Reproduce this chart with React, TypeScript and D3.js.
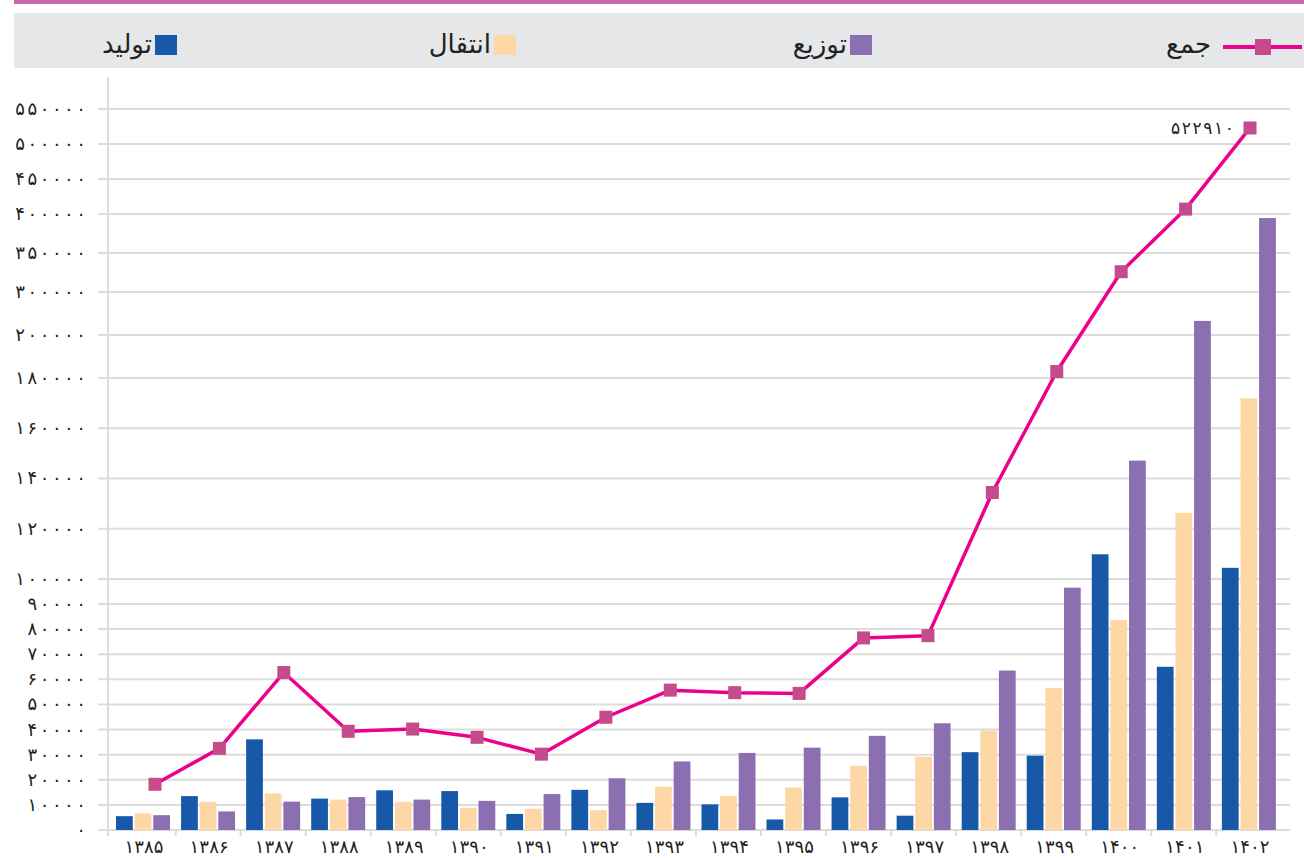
import { useMemo } from 'react';
import * as d3 from 'd3';

// سال‌ها و مقادیر (خوانده‌شده از تصویر)
const years = ['۱۳۸۵', '۱۳۸۶', '۱۳۸۷', '۱۳۸۸', '۱۳۸۹', '۱۳۹۰', '۱۳۹۱', '۱۳۹۲', '۱۳۹۳', '۱۳۹۴', '۱۳۹۵', '۱۳۹۶', '۱۳۹۷', '۱۳۹۸', '۱۳۹۹', '۱۴۰۰', '۱۴۰۱', '۱۴۰۲'];
const production = [5500, 13500, 36100, 12500, 15800, 15500, 6400, 16000, 10800, 10200, 4200, 13000, 5700, 31000, 29600, 109800, 65000, 104400];
const transmission = [6600, 11200, 14600, 12100, 11200, 8800, 8500, 7900, 17300, 13600, 16900, 25600, 29200, 39600, 56500, 83700, 126300, 171900];
const distribution = [5900, 7400, 11300, 13100, 12100, 11600, 14300, 20600, 27300, 30700, 32800, 37500, 42500, 63500, 96500, 147100, 232800, 394800];
const total = [18200, 32500, 62700, 39300, 40200, 36900, 30200, 44900, 55700, 54700, 54400, 76500, 77400, 134400, 183000, 326000, 407000, 522910];
const yTicks = [0, 10000, 20000, 30000, 40000, 50000, 60000, 70000, 80000, 90000, 100000, 120000, 140000, 160000, 180000, 200000, 300000, 350000, 400000, 450000, 500000, 550000];

const seriesKeys = ['prod', 'trans', 'dist'];
const seriesNames = ['تولید', 'انتقال', 'توزیع'];
const colors: Record<string, string> = { prod: '#1759a8', trans: '#fdd8a6', dist: '#8c6fb0' };
const lineColor = '#ec008c';
const markerColor = '#c54b8c';

const W = 1304;
const H = 858;
const FONT = '"DejaVu Sans", sans-serif';

const fa = (n: number) => String(n).replace(/\d/g, (d) => '۰۱۲۳۴۵۶۷۸۹'[+d]);

export default function App() {
  // axis is broken: linear up to 180000, compressed above
  const y = useMemo(
    () => d3.scaleLinear().domain([0, 180000, 200000, 300000, 400000, 550000]).range([830, 378, 335, 292, 214, 109]),
    []
  );
  const x = useMemo(
    () => d3.scaleBand<string>().domain(years).range([110.5, 1281.4]).paddingInner(0.17).paddingOuter(0.085),
    []
  );
  const xSub = useMemo(
    () => d3.scaleBand<string>().domain(seriesKeys).range([0, x.bandwidth()]).paddingInner(0.1),
    [x]
  );
  const xLine = useMemo(() => d3.scalePoint<string>().domain(years).range([155, 1250]), []);

  const seriesData: Record<string, number[]> = { prod: production, trans: transmission, dist: distribution };

  const linePath = d3
    .line<number>()
    .x((_, i) => xLine(years[i])!)
    .y((d) => y(d))(total);

  const legendItems = [
    { key: 'prod', name: seriesNames[0], sx: 155 },
    { key: 'trans', name: seriesNames[1], sx: 494 },
    { key: 'dist', name: seriesNames[2], sx: 850 },
  ];

  const last = total.length - 1;
  // Arabic-script text ignores letter-spacing, so spread digits with textLength
  const spread = (s: string, per: number) => (s.length > 1 ? { textLength: s.length * per - 3, lengthAdjust: 'spacing' } : {});

  return (
    <svg width={W} height={H} style={{ position: 'absolute', left: 0, top: 0, background: '#fff', fontFamily: FONT }}>
      {/* top band + legend */}
      <rect x={14} y={0} width={W - 14} height={4} fill="#c56aa9" />
      <rect x={14} y={13} width={W - 14} height={55} fill="#e6e7e9" />
      {legendItems.map((l) => (
        <g key={l.key}>
          <rect x={l.sx} y={35} width={22} height={20} fill={colors[l.key]} />
          <text x={l.sx - 3} y={53} textAnchor="end" fontSize={26} fill="#222">
            {l.name}
          </text>
        </g>
      ))}
      <line x1={1223} x2={1302} y1={47} y2={47} stroke={lineColor} strokeWidth={4} />
      <rect x={1255} y={39} width={16} height={16} fill={markerColor} />
      <text x={1211} y={53} textAnchor="end" fontSize={26} fill="#222">
        جمع
      </text>

      {/* grid */}
      {yTicks.map((t) => (
        <g key={t}>
          <line x1={98} x2={1290} y1={y(t)} y2={y(t)} stroke="#dcdcdc" strokeWidth={2} />
          <text x={86} y={y(t) + 6} textAnchor="end" fontSize={18} fill="#222" {...spread(fa(t), 12.3)}>
            {fa(t)}
          </text>
        </g>
      ))}
      <line x1={108} x2={108} y1={77} y2={836} stroke="#dcdcdc" strokeWidth={2} />
      {years.slice(1).map((yr) => (
        <line
          key={yr}
          x1={x(yr)! - (x.step() - x.bandwidth()) / 2}
          x2={x(yr)! - (x.step() - x.bandwidth()) / 2}
          y1={830}
          y2={836}
          stroke="#dcdcdc"
          strokeWidth={2}
        />
      ))}

      {/* bars */}
      {years.map((yr, i) => (
        <g key={yr} transform={`translate(${x(yr)},0)`}>
          {seriesKeys.map((k) => (
            <rect
              key={k}
              x={xSub(k)}
              y={y(seriesData[k][i])}
              width={xSub.bandwidth()}
              height={y(0) - y(seriesData[k][i])}
              fill={colors[k]}
            />
          ))}
        </g>
      ))}

      {/* x labels */}
      {years.map((yr) => (
        <text key={yr} x={x(yr)! + x.bandwidth() / 2 + 1} y={853} textAnchor="middle" fontSize={18} fill="#222" {...spread(yr, 10.5)}>
          {yr}
        </text>
      ))}

      {/* total line */}
      <path d={linePath ?? ''} fill="none" stroke={lineColor} strokeWidth={3.5} strokeLinejoin="round" />
      {total.map((v, i) => (
        <rect key={i} x={xLine(years[i])! - 6.5} y={y(v) - 6.5} width={13} height={13} fill={markerColor} />
      ))}
      <text x={xLine(years[last])! - 16} y={y(total[last]) + 6} textAnchor="end" fontSize={17} fill="#222" {...spread(fa(total[last]), 11)}>
        {fa(total[last])}
      </text>
    </svg>
  );
}
